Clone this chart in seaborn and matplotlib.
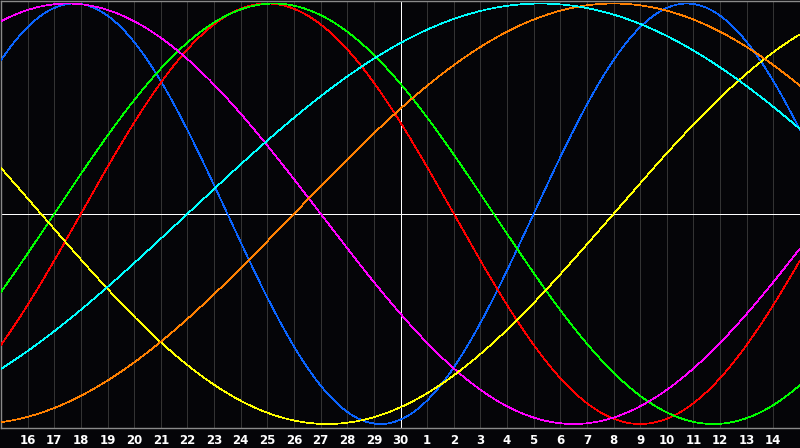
import numpy as np
import pandas as pd
import seaborn as sns
import matplotlib.pyplot as plt

# biorhythm cycles: period (days) and the day (from left edge)
# where each curve crosses zero going upward
cycle_names = ["physical", "emotional", "intellectual", "intuitive", "aesthetic", "awareness", "spiritual"]
periods = [23, 28, 33, 38, 43, 48, 53]
rise_days = [20.0, 3.0, 2.0, 31.0, 23.0, 11.0, 7.0]
colors = ["#0a64ff", "#ff0000", "#00ff00", "#ff00ff", "#ffff00", "#ff8000", "#00ffff"]

# day labels under the grid lines (left edge is day 15 of the previous month)
day_labels = [str(d) for d in range(16, 31)] + [str(d) for d in range(1, 15)]
today_pos = 15

# sample each cycle across the 30-day window
days = np.linspace(0, 30, 901)
rows = []
for name, p, r in zip(cycle_names, periods, rise_days):
    rows.append(pd.DataFrame({"day": days, "value": np.sin(2 * np.pi * (days - r) / p), "cycle": name}))
df = pd.concat(rows, ignore_index=True)

sns.set_style("dark")
bg = "#050508"
fig = plt.figure(figsize=(8, 4.48), dpi=100, facecolor=bg)
ax = fig.add_axes([1 / 800, 20 / 448, 799 / 800, 427 / 448])
ax.set_facecolor(bg)

# grid lines, one per day
for i in range(1, 30):
    ax.axvline(i, color="#333333", lw=0.6, zorder=1, antialiased=False)

ax.axhline(0, color="white", lw=0.6, zorder=2, antialiased=False)
ax.axvline(today_pos, color="white", lw=0.6, zorder=2, antialiased=False)

sns.lineplot(data=df, x="day", y="value", hue="cycle", palette=dict(zip(cycle_names, colors)),
             linewidth=0.5, legend=False, ax=ax, zorder=3, antialiased=False)

ax.set_xlim(0, 30)
ax.set_ylim(-1.019, 1.012)
ax.set_xticks(range(1, 30))
ax.set_xticklabels(day_labels, color="white", fontsize=8.5, fontweight="bold", family="DejaVu Sans")
ax.tick_params(axis="x", length=0, pad=4)
ax.set_yticks([])
ax.set_xlabel("")
ax.set_ylabel("")
ax.grid(False)

for side in ["left", "top", "bottom"]:
    ax.spines[side].set_visible(True)
    ax.spines[side].set_color("#8a8a8a")
    ax.spines[side].set_linewidth(1.0)
ax.spines["right"].set_visible(False)

fig.savefig("out.png", dpi=100, facecolor=bg)
